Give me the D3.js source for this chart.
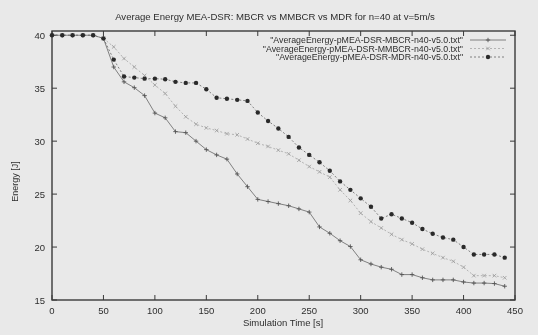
<!DOCTYPE html>
<html>
<head>
<meta charset="utf-8">
<script src="https://cdn.jsdelivr.net/npm/d3@7"></script>
<style>
  html, body { margin: 0; padding: 0; background: #e9e9e9; }
  svg { display: block; font-family: "Liberation Sans", Arial, sans-serif; filter: blur(0.35px); }
</style>
</head>
<body>
<div id="chart"></div>
<script>
// simulation time (s), one sample every 10 s
const times = d3.range(0, 450, 10);

const mbcr = [40, 40, 40, 40, 40, 39.7, 37.0, 35.6, 35.05, 34.3, 32.65, 32.2, 30.9, 30.8, 30.0,
  29.2, 28.7, 28.3, 26.9, 25.7, 24.5, 24.3, 24.1, 23.9, 23.6, 23.3, 21.9, 21.3, 20.6, 20.05,
  18.8, 18.4, 18.1, 17.9, 17.4, 17.4, 17.1, 16.9, 16.9, 16.9, 16.7, 16.6, 16.6, 16.55, 16.3];

const mmbcr = [40, 40, 40, 40, 40, 39.7, 38.9, 37.8, 37.0, 36.2, 35.3, 34.5, 33.3, 32.3, 31.6,
  31.25, 31.0, 30.7, 30.6, 30.2, 29.8, 29.5, 29.15, 28.8, 28.2, 27.6, 27.1, 26.6, 25.4, 24.4,
  23.2, 22.4, 21.8, 21.2, 20.7, 20.3, 19.8, 19.4, 19.0, 18.65, 18.1, 17.3, 17.3, 17.3, 17.1];

const mdr = [40, 40, 40, 40, 40, 39.7, 37.7, 36.1, 36.0, 35.9, 35.9, 35.85, 35.6, 35.5, 35.5,
  34.9, 34.1, 34.0, 33.9, 33.8, 32.7, 31.9, 31.2, 30.4, 29.4, 28.7, 28.0, 27.2, 26.2, 25.4,
  24.6, 23.8, 22.7, 23.1, 22.7, 22.3, 21.7, 21.25, 20.9, 20.7, 20.0, 19.3, 19.3, 19.3, 19.0];

const seriesNames = [
  '"AverageEnergy-pMEA-DSR-MBCR-n40-v5.0.txt"',
  '"AverageEnergy-pMEA-DSR-MMBCR-n40-v5.0.txt"',
  '"AverageEnergy-pMEA-DSR-MDR-n40-v5.0.txt"'
];
const xTicks = d3.range(0, 451, 50);
const yTicks = [15, 20, 25, 30, 35, 40];

const W = 538, H = 335;
const plot = { left: 52, right: 515, top: 31, bottom: 300 };

const svg = d3.select('#chart').append('svg')
  .attr('width', W).attr('height', H);

svg.append('rect').attr('width', W).attr('height', H).attr('fill', '#e9e9e9');

const x = d3.scaleLinear().domain([0, 450]).range([plot.left, plot.right]);
const y = d3.scaleLinear().domain([15, 40.4]).range([plot.bottom, plot.top]);

const axisColor = '#3a3a3a';
const textColor = '#2e2e2e';

// ticks on all four sides (mirrored, inward)
const tick = 5;
const tg = svg.append('g').attr('stroke', axisColor).attr('stroke-width', 1);
xTicks.forEach(t => {
  tg.append('line').attr('x1', x(t)).attr('x2', x(t)).attr('y1', plot.bottom).attr('y2', plot.bottom - tick);
  tg.append('line').attr('x1', x(t)).attr('x2', x(t)).attr('y1', plot.top).attr('y2', plot.top + tick);
});
yTicks.forEach(v => {
  tg.append('line').attr('x1', plot.left).attr('x2', plot.left + tick).attr('y1', y(v)).attr('y2', y(v));
  tg.append('line').attr('x1', plot.right).attr('x2', plot.right - tick).attr('y1', y(v)).attr('y2', y(v));
});

// tick labels
svg.append('g').selectAll('text').data(xTicks).enter().append('text')
  .attr('x', d => x(d)).attr('y', plot.bottom + 14)
  .attr('text-anchor', 'middle').attr('font-size', 9.5).attr('fill', textColor)
  .text(d => d);
svg.append('g').selectAll('text').data(yTicks).enter().append('text')
  .attr('x', plot.left - 7).attr('y', d => y(d) + 3.5)
  .attr('text-anchor', 'end').attr('font-size', 9.5).attr('fill', textColor)
  .text(d => d);

// frame
svg.append('rect')
  .attr('x', plot.left).attr('y', plot.top)
  .attr('width', plot.right - plot.left).attr('height', plot.bottom - plot.top)
  .attr('fill', 'none').attr('stroke', axisColor).attr('stroke-width', 1.4);

// titles
svg.append('text').attr('x', 275).attr('y', 20)
  .attr('text-anchor', 'middle').attr('font-size', 9.6).attr('fill', textColor)
  .text('Average Energy MEA-DSR: MBCR vs MMBCR vs MDR for n=40 at v=5m/s');
svg.append('text').attr('x', 283).attr('y', 326)
  .attr('text-anchor', 'middle').attr('font-size', 9.5).attr('fill', textColor)
  .text('Simulation Time [s]');
svg.append('text')
  .attr('transform', `translate(18,${(plot.top + plot.bottom) / 2 + 16}) rotate(-90)`)
  .attr('text-anchor', 'middle').attr('font-size', 9).attr('fill', textColor)
  .text('Energy [J]');

const styles = [
  { values: mbcr, stroke: '#666', width: 0.8, dash: null, marker: 'plus', mcolor: '#555' },
  { values: mmbcr, stroke: '#a5a5a5', width: 0.8, dash: '2,2', marker: 'cross', mcolor: '#999' },
  { values: mdr, stroke: '#666', width: 0.8, dash: '2,2', marker: 'dot', mcolor: '#2a2a2a' }
];

function drawMarker(g, type, cx, cy, color) {
  if (type === 'plus') {
    g.append('path').attr('d', `M${cx - 2.2},${cy}H${cx + 2.2}M${cx},${cy - 2.2}V${cy + 2.2}`)
      .attr('stroke', color).attr('stroke-width', 0.9);
  } else if (type === 'cross') {
    g.append('path').attr('d', `M${cx - 1.8},${cy - 1.8}L${cx + 1.8},${cy + 1.8}M${cx - 1.8},${cy + 1.8}L${cx + 1.8},${cy - 1.8}`)
      .attr('stroke', color).attr('stroke-width', 0.8);
  } else {
    g.append('circle').attr('cx', cx).attr('cy', cy).attr('r', 2.2).attr('fill', color);
  }
}

const line = d3.line().x(d => x(d[0])).y(d => y(d[1]));

styles.forEach(s => {
  const pts = times.map((t, i) => [t, s.values[i]]);
  svg.append('path').datum(pts)
    .attr('d', line).attr('fill', 'none')
    .attr('stroke', s.stroke).attr('stroke-width', s.width)
    .attr('stroke-dasharray', s.dash);
  const g = svg.append('g');
  pts.forEach(p => drawMarker(g, s.marker, x(p[0]), y(p[1]), s.mcolor));
});

// legend
const legX = 463, legY = [40, 48.5, 57];
styles.forEach((s, i) => {
  svg.append('text').attr('x', legX).attr('y', legY[i] + 3)
    .attr('text-anchor', 'end').attr('font-size', 8.8).attr('fill', textColor)
    .text(seriesNames[i]);
  svg.append('line').attr('x1', 470).attr('x2', 506).attr('y1', legY[i]).attr('y2', legY[i])
    .attr('stroke', s.stroke).attr('stroke-width', s.width).attr('stroke-dasharray', s.dash);
  drawMarker(svg.append('g'), s.marker, 488, legY[i], s.mcolor);
});
</script>
</body>
</html>
